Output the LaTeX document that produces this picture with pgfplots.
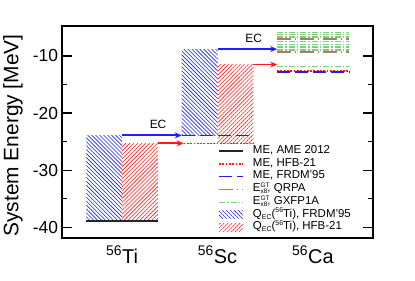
\documentclass[border=0pt]{standalone}
\usepackage{fontspec}
\setmainfont{Liberation Sans}
\usepackage{pgfplots}
\pgfplotsset{compat=1.18}
\usetikzlibrary{patterns.meta,arrows.meta}

\definecolor{myblue}{RGB}{30,30,255}
\definecolor{myred}{RGB}{255,25,25}
\definecolor{mygreen}{RGB}{125,205,125}
\definecolor{mybrown}{RGB}{165,130,95}
\newcommand{\lf}{\fontsize{11.5}{13}\selectfont}
\newcommand{\lsub}[1]{\raisebox{-2.2bp}{\fontsize{7}{8}\selectfont #1}}
\newcommand{\lsup}[1]{\raisebox{4.6bp}{\fontsize{7}{8}\selectfont #1}}
\newcommand{\EGT}{E\rlap{\raisebox{4.2bp}{\fontsize{6.5}{7}\selectfont GT}}\raisebox{-2.2bp}{\fontsize{6.5}{7}\selectfont x8}}

\begin{document}
\begin{tikzpicture}
\useasboundingbox (-62bp,-43bp) rectangle (353bp,238bp);
\begin{axis}[
  at={(0,0)}, anchor=south west,
  scale only axis, width=311bp, height=212bp,
  xmin=-0.63, xmax=2.63, ymin=-41.87, ymax=-4.75,
  axis line style={line width=1.6bp},
  ytick={-40,-30,-20,-10}, yticklabels={-40,-30,-20,-10},
  minor ytick={-35,-25,-15},
  tick align=inside,
  major tick length=10bp, minor tick length=5bp,
  tick style={line width=1.4bp, black},
  xtick={0,1,2},
  xticklabels={\textsuperscript{56}Ti,\textsuperscript{56}Sc,\textsuperscript{56}Ca},
  xtick style={draw=none},
  xticklabel style={font=\fontsize{20}{24}\selectfont, anchor=base, inner sep=0pt, yshift=-25bp},
  yticklabel style={font=\fontsize{17.5}{20}\selectfont, inner sep=0pt, xshift=-3.7bp},
  ylabel={System Energy [MeV]},
  ylabel style={font=\fontsize{21}{24}\selectfont, at={(axis description cs:-0.14,0.4835)}, anchor=base},
  unbounded coords=jump,
  legend cell align=left,
  legend image code/.code={\draw[#1] (0bp,0bp) -- (24bp,0bp);},
  legend style={at={(axis description cs:0.5016,0.4406)}, anchor=north west,
    draw=none, fill=none, inner sep=0pt, column sep=9bp, row sep=0pt,
    nodes={inner sep=0pt, text height=8.5bp, text depth=4.25bp}},
]
% Q_EC hatched areas
\addplot[draw=none, pattern={Lines[angle=-45,distance=2.8bp,line width=0.6bp]}, pattern color=myblue, forget plot]
  coordinates {(-0.375,-38.9) (0,-38.9) (0,-23.9) (-0.375,-23.9)} -- cycle;
\addplot[draw=none, pattern={Lines[angle=-45,distance=2.8bp,line width=0.6bp]}, pattern color=myblue, forget plot]
  coordinates {(0.625,-23.9) (1,-23.9) (1,-8.8) (0.625,-8.8)} -- cycle;
\addplot[draw=none, pattern={Lines[angle=45,distance=2.8bp,line width=0.6bp]}, pattern color=myred, forget plot]
  coordinates {(0,-38.9) (0.375,-38.9) (0.375,-25.3) (0,-25.3)} -- cycle;
\addplot[draw=none, pattern={Lines[angle=45,distance=2.8bp,line width=0.6bp]}, pattern color=myred, forget plot]
  coordinates {(1,-25.3) (1.375,-25.3) (1.375,-11.5) (1,-11.5)} -- cycle;
% EC arrows
\addplot[myblue, line width=1.8bp, -{Stealth[length=7bp,width=6bp]}, forget plot]
  coordinates {(0,-23.9) (0.625,-23.9)};
\addplot[myred, line width=1.8bp, -{Stealth[length=7bp,width=6bp]}, forget plot]
  coordinates {(0.375,-25.3) (0.645,-25.3)};
\addplot[myblue, line width=1.8bp, -{Stealth[length=7bp,width=6bp]}, forget plot]
  coordinates {(1,-8.8) (1.625,-8.8)};
\addplot[myred, line width=1.8bp, -{Stealth[length=7bp,width=6bp]}, forget plot]
  coordinates {(1.375,-11.5) (1.625,-11.5)};
% mass excess levels
\addplot[black!85, line width=1.8bp]
  coordinates {(-0.375,-38.9) (0.375,-38.9)};
\addlegendentry{\lf ME, AME 2012}
\addplot[myred, line width=1.6bp, dash pattern=on 1.8bp off 1.5bp]
  coordinates {(0.645,-25.3) (1.375,-25.3) (1.5,nan) (1.625,-12.6) (2.38,-12.6)};
\addlegendentry{\lf ME, HFB-21}
\addplot[myblue, line width=1.6bp, dash pattern=on 13bp off 5bp]
  coordinates {(0.625,-23.9) (1.375,-23.9) (1.5,nan) (1.625,-12.8) (2.38,-12.8)};
\addlegendentry{\lf ME, FRDM'95}
\addplot[mybrown, line width=1.6bp, dash pattern=on 14bp off 4bp on 1bp off 4bp]
  coordinates {(1.625,-7.0) (2.38,-7.0) (2,nan) (1.625,-9.3) (2.38,-9.3)};
\addlegendentry{\lf \EGT, QRPA}
\addplot[mygreen, line width=1.2bp, dash pattern=on 6bp off 2bp on 1.5bp off 2bp]
  coordinates {(1.625,-5.84) (2.38,-5.84) (2,nan)
               (1.625,-6.23) (2.38,-6.23) (2,nan)
               (1.625,-6.67) (2.38,-6.67) (2,nan)
               (1.625,-7.49) (2.38,-7.49) (2,nan)
               (1.625,-7.98) (2.38,-7.98) (2,nan)
               (1.625,-8.42) (2.38,-8.42) (2,nan)
               (1.625,-8.95) (2.38,-8.95) (2,nan)
               (1.625,-11.88) (2.38,-11.88)};
\addlegendentry{\lf \EGT, GXFP1A}
\addlegendimage{legend image code/.code={\path[draw=none, pattern={Lines[angle=-45,distance=2.8bp,line width=0.6bp]}, pattern color=myblue] (0bp,-4bp) rectangle (24bp,4bp);}}
\addlegendentry{\lf Q\lsub{EC}(\lsup{56}Ti), FRDM'95}
\addlegendimage{legend image code/.code={\path[draw=none, pattern={Lines[angle=45,distance=2.8bp,line width=0.6bp]}, pattern color=myred] (0bp,-4bp) rectangle (24bp,4bp);}}
\addlegendentry{\lf Q\lsub{EC}(\lsup{56}Ti), HFB-21}
\node[font=\fontsize{12}{14}\selectfont] at (axis cs:0.377,-22.0) {EC};
\node[font=\fontsize{12}{14}\selectfont] at (axis cs:1.379,-6.9) {EC};
\end{axis}
\end{tikzpicture}
\end{document}
